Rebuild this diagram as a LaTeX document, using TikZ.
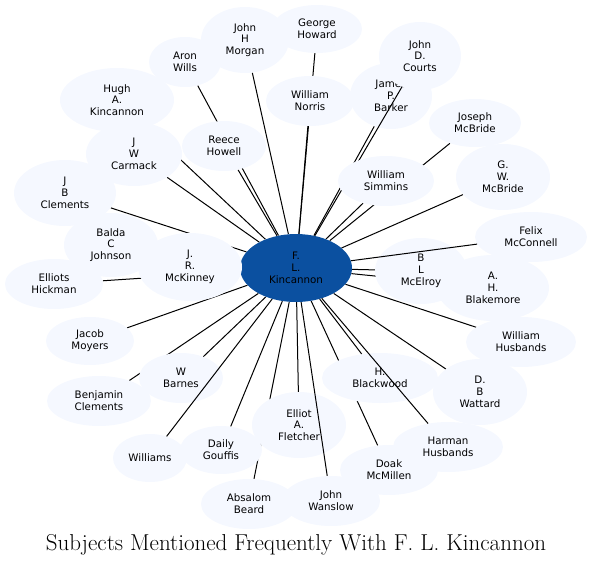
\documentclass[tikz,border=0pt]{standalone}
\usepackage{fontspec}
\usetikzlibrary{shapes.geometric}
\newfontfamily\nodefont{DejaVu Sans}
\definecolor{pale}{RGB}{245,248,255}
\definecolor{hub}{RGB}{11,80,160}
\pgfdeclarelayer{edgesbelow}
\pgfdeclarelayer{edgesabove}
\pgfdeclarelayer{front}
\pgfsetlayers{edgesbelow,main,edgesabove,front}
\tikzset{
  person/.style={ellipse, fill=pale, inner sep=0pt, align=center,
    font=\nodefont\fontsize{10.3}{11.8}\selectfont, text=black},
  hubnode/.style={person, fill=hub},
  link/.style={draw=black, line width=1pt},
}
\newcommand{\pnode}[6]{\node[person, minimum width=#4pt, minimum height=#5pt] (#1) at (#2pt,-#3pt) {#6};}
\begin{document}
\begin{tikzpicture}
\useasboundingbox (0pt,0pt) rectangle (593pt,-565pt);
\node[hubnode, minimum width=112pt, minimum height=68pt] (c) at (296pt,-268pt) {F.\\L.\\Kincannon};
\pnode{morgan}{245}{40}{88}{66}{John\\H\\Morgan}
\pnode{george}{317}{29}{90}{48}{George\\Howard}
\pnode{aron}{185}{62}{72}{50}{Aron\\Wills}
\pnode{hugh}{117}{100}{114}{64}{Hugh\\A.\\Kincannon}
\pnode{reece}{224}{146}{84}{50}{Reece\\Howell}
\pnode{carmack}{134}{154}{96}{64}{J\\W\\Carmack}
\pnode{jbclem}{65}{193}{102}{66}{J\\B\\Clements}
\pnode{balda}{111}{245}{94}{64}{Balda\\C\\Johnson}
\pnode{hickman}{54}{284}{98}{50}{Elliots\\Hickman}
\pnode{mckinney}{190}{267}{104}{68}{J.\\R.\\McKinney}
\pnode{moyers}{90}{341}{88}{48}{Jacob\\Moyers}
\pnode{barnes}{181}{378}{84}{50}{W\\Barnes}
\pnode{benj}{99}{401}{104}{50}{Benjamin\\Clements}
\pnode{williams}{150}{458}{74}{48}{Williams}
\pnode{gouffis}{221}{450}{82}{48}{Daily\\Gouffis}
\pnode{absalom}{249}{504}{96}{50}{Absalom\\Beard}
\pnode{fletcher}{299}{425}{94}{66}{Elliot\\A.\\Fletcher}
\pnode{wanslow}{331}{501}{98}{50}{John\\Wanslow}
\pnode{doak}{389}{470}{98}{50}{Doak\\McMillen}
\pnode{blackwood}{380}{378}{116}{50}{H.\\Blackwood}
\pnode{harman}{448}{447}{110}{50}{Harman\\Husbands}
\pnode{wattard}{480}{392}{94}{66}{D.\\B\\Wattard}
\pnode{whusb}{521}{342}{110}{50}{William\\Husbands}
\pnode{blakemore}{493}{288}{112}{66}{A.\\H.\\Blakemore}
\pnode{mcelroy}{421}{271}{92}{66}{B\\L\\McElroy}
\pnode{felix}{531}{237}{112}{50}{Felix\\McConnell}
\pnode{gwmcb}{503}{177}{94}{66}{G.\\W.\\McBride}
\pnode{joseph}{475}{123}{92}{48}{Joseph\\McBride}
\pnode{barker}{391}{96}{82}{66}{James\\P.\\Barker}
\pnode{courts}{420}{56}{82}{68}{John\\D.\\Courts}
\pnode{norris}{310}{101}{88}{50}{William\\Norris}
\begin{pgfonlayer}{front}
\pnode{simmins}{386}{181}{96}{50}{William\\Simmins}
\end{pgfonlayer}
% edges hidden behind the nodes they cross
\begin{pgfonlayer}{edgesbelow}
\foreach \n in {morgan,george,aron,hugh,reece,carmack,jbclem,balda,hickman,mckinney,moyers,barnes,benj,gouffis,absalom,fletcher,doak,blackwood,wattard,whusb,blakemore,mcelroy,gwmcb,joseph,barker,norris,simmins}
  \draw[link] (c) -- (\n);
\end{pgfonlayer}
% edges drawn over the nodes they cross
\begin{pgfonlayer}{edgesabove}
\foreach \n in {courts,harman,felix,williams,wanslow}
  \draw[link] (c) -- (\n);
\end{pgfonlayer}
\node[anchor=base, font=\fontsize{23}{27}\selectfont, inner sep=0pt] (title) at (296pt,-550pt) {Subjects Mentioned Frequently With F. L. Kincannon};
\end{tikzpicture}
\end{document}
